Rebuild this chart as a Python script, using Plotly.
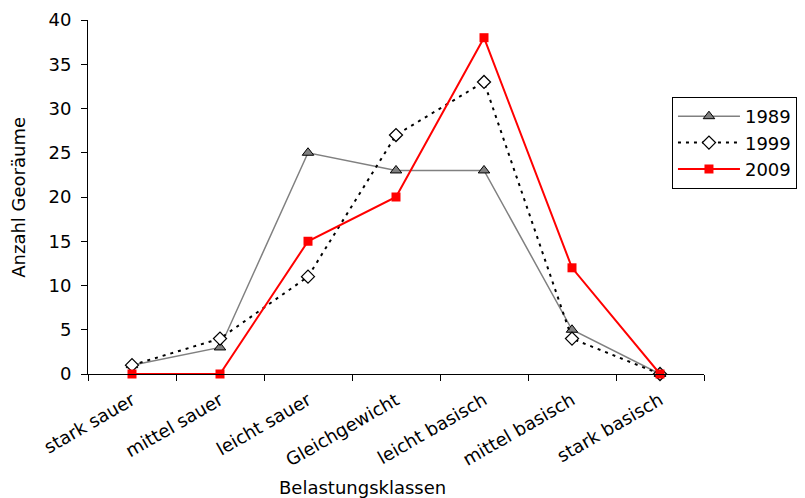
import plotly.graph_objects as go

CLASSES = ["stark sauer", "mittel sauer", "leicht sauer", "Gleichgewicht",
           "leicht basisch", "mittel basisch", "stark basisch"]
Y1989 = [1, 3, 25, 23, 23, 5, 0]
Y1999 = [1, 4, 11, 27, 33, 4, 0]
Y2009 = [0, 0, 15, 20, 38, 12, 0]

FONT = "DejaVu Sans, Verdana, sans-serif"

fig = go.Figure()
fig.add_trace(go.Scatter(
    x=CLASSES, y=Y1989, name="1989", mode="lines+markers",
    line=dict(color="#808080", width=1.5),
    marker=dict(symbol="triangle-up", size=10, color="#808080",
                line=dict(color="black", width=1)),
    cliponaxis=False,
))
fig.add_trace(go.Scatter(
    x=CLASSES, y=Y1999, name="1999", mode="lines+markers",
    line=dict(color="black", width=2, dash="3px,5px"),
    marker=dict(symbol="diamond", size=10, color="white",
                line=dict(color="black", width=1.3)),
    cliponaxis=False,
))
fig.add_trace(go.Scatter(
    x=CLASSES, y=Y2009, name="2009", mode="lines+markers",
    line=dict(color="#ff0000", width=2),
    marker=dict(symbol="square", size=9, color="#ff0000"),
    cliponaxis=False,
))

# page body has an 8px margin, so the figure is sized/offset to compensate
fig.update_layout(
    width=797, height=490,
    margin=dict(l=80, r=101, t=12, b=124, autoexpand=False),
    paper_bgcolor="white", plot_bgcolor="white",
    font=dict(family=FONT, size=18, color="black"),
    showlegend=True,
    legend=dict(
        x=0.948, y=0.7825, xanchor="left", yanchor="top",
        bordercolor="black", borderwidth=1, bgcolor="white",
        font=dict(size=18), itemwidth=62, tracegroupgap=0,
    ),
    annotations=[
        dict(text="Belastungsklassen", x=(362 - 88) / 616, y=-0.322,
             xref="paper", yref="paper", xanchor="center", yanchor="middle",
             showarrow=False, font=dict(size=18)),
        dict(text="Anzahl Georäume", x=-0.114, y=0.5, textangle=-90,
             xref="paper", yref="paper", xanchor="center", yanchor="middle",
             showarrow=False, font=dict(size=18)),
    ],
)

fig.update_xaxes(
    type="category", range=[-0.5, 6.5], tickson="boundaries", automargin=False,
    ticks="outside", ticklen=6, tickcolor="black", ticklabelstandoff=8,
    showline=True, linecolor="black", linewidth=1, showgrid=False,
    tickangle=-30, tickfont=dict(size=18),
)
fig.update_yaxes(
    range=[0, 40], dtick=5, ticks="outside", ticklen=6, tickcolor="black", automargin=False,
    ticklabelstandoff=6,
    showline=True, linecolor="black", linewidth=1, showgrid=False, zeroline=False,
    tickfont=dict(size=18),
)

fig.write_html("out.html")
